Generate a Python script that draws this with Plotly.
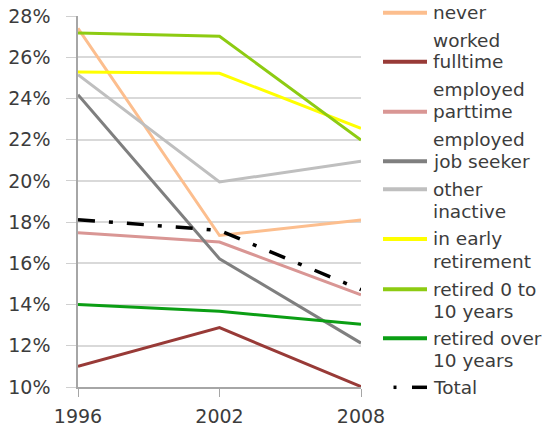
import plotly.graph_objects as go

years = [1996, 2002, 2008]
series_names = ["never worked", "employed fulltime", "employed parttime", "job seeker",
                "other inactive", "in early retirement", "retired 0 to 10 years",
                "retired over 10 years", "Total"]
never_worked = [27.4, 17.35, 18.1]
employed_fulltime = [11.0, 12.88, 10.02]
employed_parttime = [17.48, 17.03, 14.47]
job_seeker = [24.18, 16.22, 12.13]
other_inactive = [25.15, 19.95, 20.95]
early_retirement = [25.28, 25.22, 22.55]
retired_0_10 = [27.17, 27.02, 21.98]
retired_over_10 = [14.0, 13.67, 13.05]
total = [18.12, 17.6, 14.72]

y_ticks = [10, 12, 14, 16, 18, 20, 22, 24, 26, 28]
y_tick_labels = ["10%", "12%", "14%", "16%", "18%", "20%", "22%", "24%", "26%", "28%"]
x_tick_labels = ["1996", "2002", "2008"]

values = [never_worked, employed_fulltime, employed_parttime, job_seeker, other_inactive,
          early_retirement, retired_0_10, retired_over_10, total]
colors = ["#FCBE8E", "#983A37", "#D99694", "#7F7F7F", "#BFBFBF", "#FFFF00",
          "#8DCB12", "#0B9E14", "#000000"]

# legend label text lines (as wrapped in the original) and which line carries the symbol
legend_lines = [
    (["never"], 0),
    (["worked", "fulltime"], 1),
    (["employed", "parttime"], 1),
    (["employed", "job seeker"], 1),
    (["other", "inactive"], 0),
    (["in early", "retirement"], 0),
    (["retired 0 to", "10 years"], 0),
    (["retired over", "10 years"], 0),
    (["Total"], 0),
]

FONT = "DejaVu Sans"
TXT = "#3C3C3C"

fig = go.Figure()
for name, vals, col in zip(series_names, values, colors):
    if name == "Total":
        line = dict(color=col, width=3.5, dash="17px,14px,4px,14px")
    else:
        line = dict(color=col, width=3)
    fig.add_trace(go.Scatter(x=years, y=vals, mode="lines", name=name, line=line,
                             showlegend=False))

# the page body adds an 8px margin, so the figure is laid out 8px smaller
PAGE_OFF = 8
W_IMG, H_IMG = 552 - PAGE_OFF, 428 - PAGE_OFF
ML, MR, MT, MB = 78 - PAGE_OFF, 191, 16 - PAGE_OFF, 41
PW = W_IMG - ML - MR
PH = H_IMG - MT - MB


def px_x(px):
    return (px - PAGE_OFF - ML) / PW


def px_y(py):
    return (H_IMG - MB - (py - PAGE_OFF)) / PH


# custom legend (pixel layout of the original's wrapped legend)
line_y = [12.7, 40, 61.7, 89, 111.7, 139, 161.3, 189.3, 211.7, 239, 261, 289.3, 311.7,
          338.3, 360.7, 387.3]
annotations = []
shapes = []
k = 0
for (lines, sym_idx), col, name in zip(legend_lines, colors, series_names):
    for i, t in enumerate(lines):
        yy = line_y[k]
        annotations.append(dict(x=px_x(432), y=px_y(yy), xref="paper", yref="paper",
                                text=t, showarrow=False, xanchor="left", yanchor="middle",
                                borderpad=0,
                                font=dict(family=FONT, size=18.5, color=TXT)))
        if i == sym_idx:
            if name == "Total":
                shapes.append(dict(type="line", xref="paper", yref="paper",
                                   x0=px_x(393.5), x1=px_x(396.5), y0=px_y(yy), y1=px_y(yy),
                                   line=dict(color=col, width=3.5)))
                shapes.append(dict(type="line", xref="paper", yref="paper",
                                   x0=px_x(412), x1=px_x(427), y0=px_y(yy), y1=px_y(yy),
                                   line=dict(color=col, width=3.5)))
            else:
                shapes.append(dict(type="line", xref="paper", yref="paper",
                                   x0=px_x(383), x1=px_x(427), y0=px_y(yy), y1=px_y(yy),
                                   line=dict(color=col, width=4)))
        k += 1

fig.update_layout(
    width=W_IMG, height=H_IMG,
    margin=dict(l=ML, r=MR, t=MT, b=MB, autoexpand=False),
    paper_bgcolor="white", plot_bgcolor="white",
    annotations=annotations, shapes=shapes,
    font=dict(family=FONT, size=19, color=TXT),
)
fig.update_xaxes(range=[1996, 2008], tickvals=years, ticktext=x_tick_labels,
                 showgrid=False, showline=True, linecolor="#A6A6A6", linewidth=1.5,
                 ticks="outside", ticklen=8, tickcolor="#A6A6A6", zeroline=False,
                 automargin=False, ticklabelstandoff=3, ticklabeloverflow="allow",
                 tickfont=dict(family=FONT, size=19, color=TXT))
fig.update_yaxes(range=[10, 28], tickvals=y_ticks, ticktext=y_tick_labels,
                 showgrid=True, gridcolor="#D9D9D9", gridwidth=1.5,
                 showline=True, linecolor="#A6A6A6", linewidth=1.5,
                 ticks="outside", ticklen=10, tickcolor="#D0D0D0", zeroline=False,
                 automargin=False, ticklabelstandoff=12, ticklabeloverflow="allow",
                 tickfont=dict(family=FONT, size=19, color=TXT))

fig.write_html("out.html")
